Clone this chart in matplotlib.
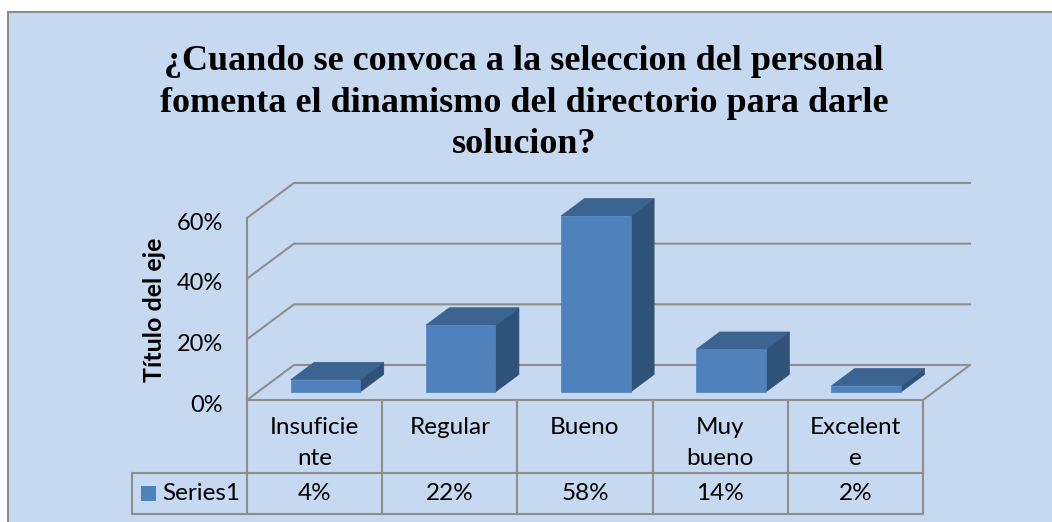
import matplotlib
matplotlib.use('Agg')
import matplotlib.pyplot as plt
from matplotlib.patches import Polygon, Rectangle

categorias = ['Insuficie\nnte', 'Regular', 'Bueno', 'Muy\nbueno', 'Excelent\ne']
valores = [4, 22, 58, 14, 2]
etiquetas_tabla = ['4%', '22%', '58%', '14%', '2%']
marcas_y = [0, 20, 40, 60]
serie = 'Series1'
titulo = '¿Cuando se convoca a la seleccion del personal\nfomenta el dinamismo del directorio para darle\nsolucion?'
titulo_eje = 'Título del eje'

FONDO = '#C6D9F0'
GRIS = '#8E8E8E'
FRENTE = '#4F81BD'
TAPA = '#3C6490'
LADO = '#2F5279'

# geometria do grafico em pixels
X0, X1 = 247, 923
Y0 = 400
PX_POR_PCT = 182 / 60
DX, DY = 47, 35


def proj(cat, val, prof):
    # cat em unidades de categoria, val em %, prof de 0 (frente) a 1 (fundo)
    x = X0 + cat * (X1 - X0) / len(categorias) + prof * DX
    y = Y0 - val * PX_POR_PCT - prof * DY
    return x, y


fig = plt.figure(figsize=(10.52, 5.22), dpi=100)
ax = fig.add_axes([0, 0, 1, 1])
ax.set_xlim(0, 1052)
ax.set_ylim(522, 0)
ax.axis('off')

ax.add_patch(Rectangle((8, 12), 1060, 530, fc=FONDO, ec=GRIS, lw=1.5))

ax.text(524, 103, titulo, family='Liberation Serif', weight='bold', fontsize=26,
        ha='center', va='center', linespacing=1.33, color='black')

# paredes e grade
n = len(categorias)
for v in marcas_y:
    pts = [proj(0, v, 0), proj(0, v, 1), proj(n, v, 1)]
    ax.plot(*zip(*pts), color=GRIS, lw=1.5, zorder=2)
    x, y = proj(0, v, 0)
    ax.text(x - 24, y + 5, f'{v}%', family='Lato', fontsize=17, ha='right', va='center')
ax.plot(*zip(proj(0, 0, 0), proj(0, marcas_y[-1], 0)), color=GRIS, lw=1.5, zorder=2)
ax.plot(*zip(proj(n, 0, 1), proj(n, 0, 0)), color=GRIS, lw=1.5, zorder=2)

ax.text(155, 310, titulo_eje, family='Lato', weight='bold', fontsize=18,
        rotation=90, ha='center', va='center')

# barras
largura = 0.515
for i, v in enumerate(valores):
    a, b = i + 0.5 - largura / 2, i + 0.5 + largura / 2
    p0, p1 = 0.23, 0.73
    frente = [proj(a, 0, p0), proj(b, 0, p0), proj(b, v, p0), proj(a, v, p0)]
    tapa = [proj(a, v, p0), proj(b, v, p0), proj(b, v, p1), proj(a, v, p1)]
    lado = [proj(b, 0, p0), proj(b, 0, p1), proj(b, v, p1), proj(b, v, p0)]
    ax.add_patch(Polygon(lado, fc=LADO, ec=LADO, lw=0.5, zorder=3))
    ax.add_patch(Polygon(tapa, fc=TAPA, ec=TAPA, lw=0.5, zorder=3))
    ax.add_patch(Polygon(frente, fc=FRENTE, ec=FRENTE, lw=0.5, zorder=4))

# tabela de dados
T1, T2, LEG = 473, 514, 132
ax.plot([X0, X1], [Y0, Y0], color=GRIS, lw=1.5, zorder=2)
ax.plot([LEG, X1], [T1, T1], color=GRIS, lw=1.5, zorder=2)
ax.plot([LEG, X1], [T2, T2], color=GRIS, lw=1.5, zorder=2)
ax.plot([LEG, LEG], [T1, T2], color=GRIS, lw=1.5, zorder=2)
for i in range(n + 1):
    x = proj(i, 0, 0)[0]
    ax.plot([x, x], [Y0, T2], color=GRIS, lw=1.5, zorder=2)
for i in range(n):
    x = proj(i + 0.5, 0, 0)[0]
    ax.text(x, 417, categorias[i], family='Lato', fontsize=17.5, ha='center', va='top', linespacing=1.6)
    ax.text(x, 494, etiquetas_tabla[i], family='Lato', fontsize=17.5, ha='center', va='center')

ax.add_patch(Rectangle((141, 486), 15, 15, fc=FRENTE, ec='none'))
ax.text(162, 494, serie, family='Lato', fontsize=17.5, ha='left', va='center')

fig.savefig('out.png', dpi=100)
